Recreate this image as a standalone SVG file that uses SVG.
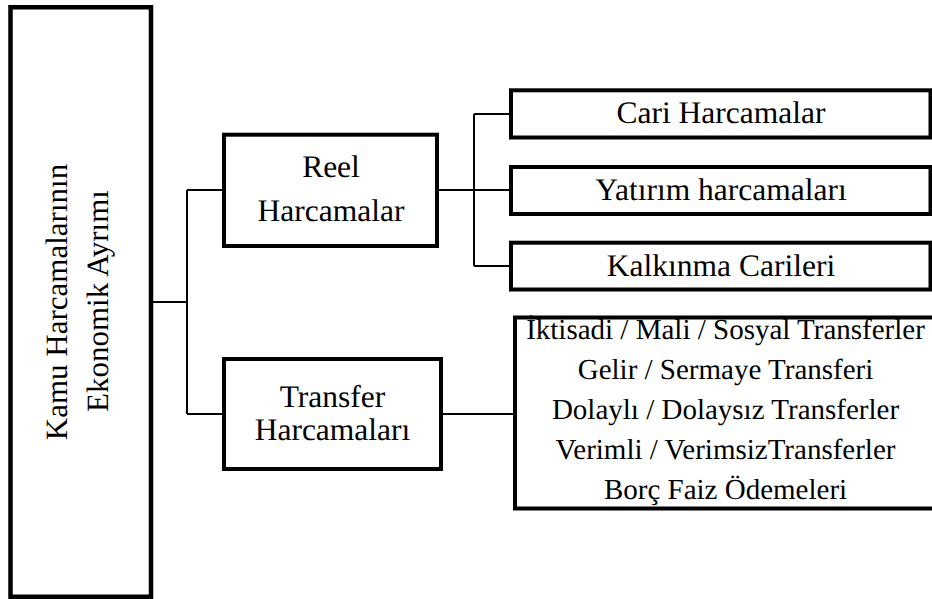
<svg xmlns="http://www.w3.org/2000/svg" width="932" height="599" viewBox="0 0 932 599">
<style>
.box{fill:#fff;stroke:#000;stroke-width:4}
.big{fill:#fff;stroke:#000;stroke-width:4.5}
text{text-rendering:geometricPrecision}
.lbl{font-size:31.5px;fill:#000;text-anchor:middle}
.lst{font-size:29px;fill:#000;text-anchor:middle}
.con{fill:none;stroke:#000;stroke-width:2}
</style>
<rect width="932" height="599" fill="#fff"/>
<g id="connectors">
<path class="con" d="M153 302H187M187 190V414M187 190H222M187 414H222"/>
<path class="con" d="M439 190H474M474 114V266M474 114H511M474 190H511M474 266H511"/>
<path class="con" d="M443 414H515"/>
</g>
<g font-family="Liberation Serif, Tinos, Times New Roman, DejaVu Serif, serif">
<g id="root">
<rect class="big" x="10.5" y="7.25" width="140.5" height="589.5"/>
<text class="lbl" style="font-size:31px" transform="translate(67,302) rotate(-90)">Kamu Harcamalarının</text>
<text class="lbl" style="font-size:31px" transform="translate(108,301) rotate(-90)">Ekonomik Ayrımı</text>
</g>
<g id="reel">
<rect class="box" x="224" y="134.7" width="213" height="111.3"/>
<text class="lbl" x="331" y="177">Reel</text>
<text class="lbl" x="331" y="220.5">Harcamalar</text>
</g>
<g id="transfer">
<rect class="box" x="224" y="359" width="217" height="110"/>
<text class="lbl" x="332.5" y="406.5">Transfer</text>
<text class="lbl" x="332.5" y="439.5">Harcamaları</text>
</g>
<g id="cari">
<rect class="box" x="511" y="90.3" width="419.5" height="47.2"/>
<text class="lbl" x="721" y="122.7">Cari Harcamalar</text>
</g>
<g id="yatirim">
<rect class="box" x="511" y="167" width="419.5" height="47"/>
<text class="lbl" x="721" y="199.5">Yatırım harcamaları</text>
</g>
<g id="kalkinma">
<rect class="box" x="511" y="242.7" width="419.5" height="46.8"/>
<text class="lbl" x="721" y="275.5">Kalkınma Carileri</text>
</g>
<g id="transfer-list">
<rect class="box" x="515" y="317.5" width="422" height="191"/>
<text class="lst" x="725.5" y="339">İktisadi / Mali / Sosyal Transferler</text>
<text class="lst" x="725.5" y="379">Gelir / Sermaye Transferi</text>
<text class="lst" x="725.5" y="419">Dolaylı / Dolaysız Transferler</text>
<text class="lst" x="725.5" y="459">Verimli / VerimsizTransferler</text>
<text class="lst" x="725.5" y="499">Borç Faiz Ödemeleri</text>
</g>
</g>
</svg>
